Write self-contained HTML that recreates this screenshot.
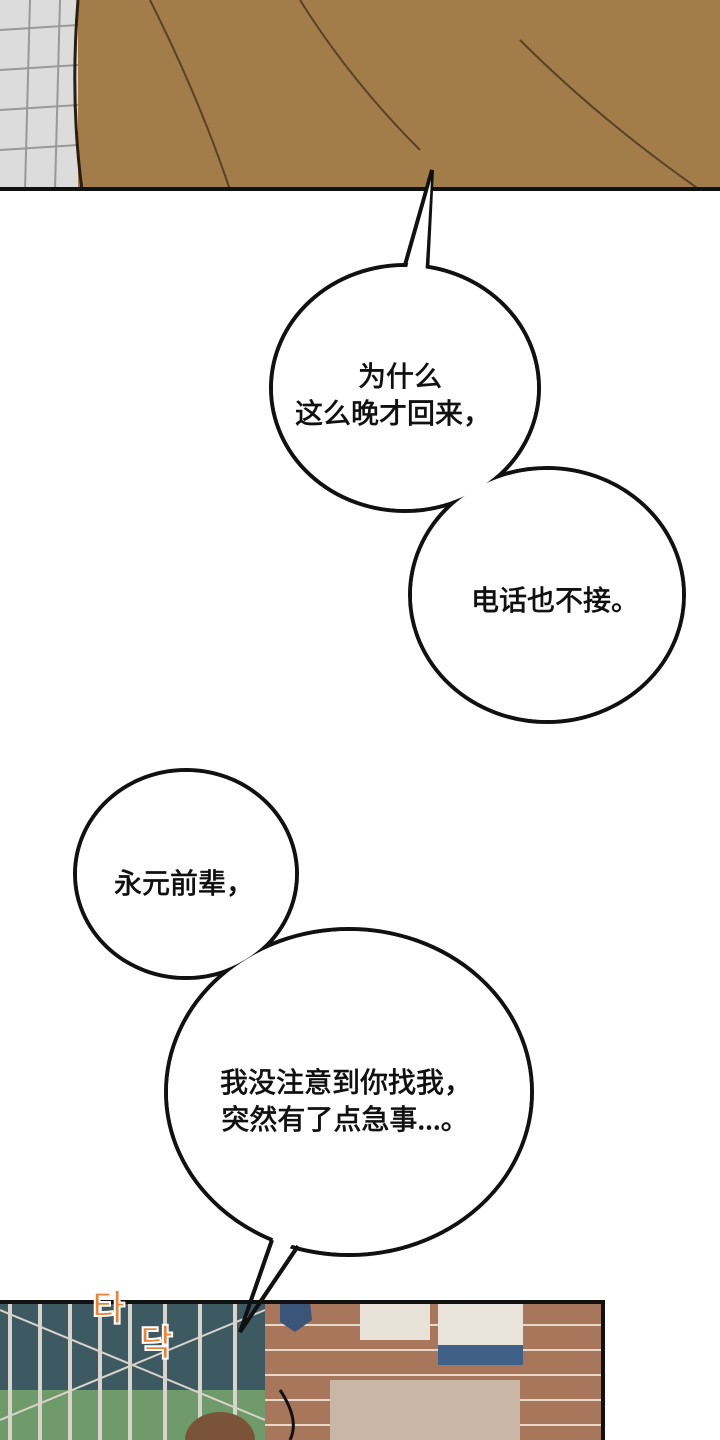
<!DOCTYPE html>
<html><head><meta charset="utf-8"><style>
html,body{margin:0;padding:0;background:#fff}
svg{display:block}
text{font-family:"Noto Sans CJK SC","Liberation Sans",sans-serif;font-weight:normal;font-size:28px;fill:#111;stroke:#111;stroke-width:0.7}
</style></head><body>
<svg width="720" height="1440" viewBox="0 0 720 1440" xmlns="http://www.w3.org/2000/svg">
<rect width="720" height="1440" fill="#fff"/>
<rect x="0" y="0" width="720" height="190" fill="#a27c49"/>
<rect x="0" y="0" width="78" height="190" fill="#dcdcdc"/>
<g stroke="#999" stroke-width="2">
<line x1="0" y1="30" x2="78" y2="25"/><line x1="0" y1="70" x2="78" y2="65"/><line x1="0" y1="110" x2="78" y2="105"/><line x1="0" y1="150" x2="78" y2="145"/>
<line x1="30" y1="0" x2="25" y2="190"/><line x1="60" y1="0" x2="55" y2="190"/>
</g>
<path d="M78 0 Q70 100 82 190" stroke="#2a1e10" stroke-width="3" fill="none"/>
<path d="M150 0 Q200 100 230 190 M300 0 Q350 80 420 150 M520 40 Q600 120 700 190" stroke="#5a4226" stroke-width="2" fill="none"/>
<rect x="0" y="187" width="720" height="4" fill="#111"/>
<g stroke="#111" stroke-width="4" fill="#fff">
<path d="M403 272 L432 170 L427 274 Z"/>
<ellipse cx="405" cy="388" rx="134" ry="123"/>
<ellipse cx="547" cy="595" rx="137" ry="127"/>
</g>
<g fill="#fff">
<path d="M405 275 L431 180 L425 278 Z"/>
<ellipse cx="405" cy="388" rx="132" ry="121"/>
<ellipse cx="547" cy="595" rx="135" ry="125"/>
</g>
<text x="400" y="386" text-anchor="middle">为什么</text>
<text x="393" y="423" text-anchor="middle">这么晚才回来，</text>
<text x="555" y="610" text-anchor="middle">电话也不接。</text>
<g stroke="#111" stroke-width="4" fill="#fff">
<path d="M272 1240 L240 1332 L298 1246 Z"/>
<ellipse cx="186" cy="874" rx="111" ry="104"/>
<ellipse cx="349" cy="1092" rx="183" ry="163"/>
</g>
<g fill="#fff">
<path d="M274 1236 L243 1322 L295 1240 Z"/>
<ellipse cx="186" cy="874" rx="109" ry="102"/>
<ellipse cx="349" cy="1092" rx="181" ry="161"/>
</g>
<text x="184" y="893" text-anchor="middle">永元前辈，</text>
<text x="346" y="1092" text-anchor="middle">我没注意到你找我，</text>
<text x="345" y="1129" text-anchor="middle">突然有了点急事...。</text>
<rect x="0" y="1302" width="603" height="138" fill="#3d5a63"/>
<rect x="0" y="1390" width="265" height="50" fill="#6f9a6a"/>
<g stroke="#d8d4cc" stroke-width="4">
<line x1="10" y1="1302" x2="10" y2="1440"/><line x1="40" y1="1302" x2="40" y2="1440"/><line x1="70" y1="1302" x2="70" y2="1440"/><line x1="100" y1="1302" x2="100" y2="1440"/><line x1="130" y1="1302" x2="130" y2="1440"/><line x1="165" y1="1302" x2="165" y2="1440"/><line x1="200" y1="1302" x2="200" y2="1440"/><line x1="235" y1="1302" x2="235" y2="1440"/>
<line x1="0" y1="1310" x2="265" y2="1420" stroke-width="2"/><line x1="265" y1="1310" x2="0" y2="1420" stroke-width="2"/>
</g>
<rect x="265" y="1302" width="338" height="138" fill="#a8765a"/>
<g stroke="#e8d8c8" stroke-width="2">
<line x1="265" y1="1325" x2="603" y2="1325"/><line x1="265" y1="1350" x2="603" y2="1350"/><line x1="265" y1="1375" x2="603" y2="1375"/><line x1="265" y1="1400" x2="603" y2="1400"/><line x1="265" y1="1425" x2="603" y2="1425"/>
</g>
<rect x="330" y="1380" width="190" height="60" fill="#c9b6a6"/>
<rect x="360" y="1302" width="70" height="38" fill="#e8e2d8"/>
<rect x="438" y="1302" width="85" height="60" fill="#e8e4dc"/>
<rect x="438" y="1345" width="85" height="20" fill="#3f6188"/>
<path d="M280 1302 L310 1302 L312 1320 L295 1332 L280 1322 Z" fill="#3b5578"/>
<path d="M280 1390 Q300 1420 290 1440" stroke="#111" stroke-width="3" fill="none"/>
<ellipse cx="220" cy="1440" rx="35" ry="28" fill="#7a5338"/>
<rect x="0" y="1300" width="605" height="4" fill="#111"/>
<rect x="601" y="1300" width="4" height="140" fill="#111"/>
<path d="M272 1240 L240 1332 L298 1246" stroke="#111" stroke-width="4" fill="none"/>
<text x="92" y="1320" style="fill:#e8843a;font-size:36px;font-weight:bold;stroke:#fff;stroke-width:2">타</text>
<text x="140" y="1355" style="fill:#e8843a;font-size:36px;font-weight:bold;stroke:#fff;stroke-width:2">닥</text>
</svg>
</body></html>
